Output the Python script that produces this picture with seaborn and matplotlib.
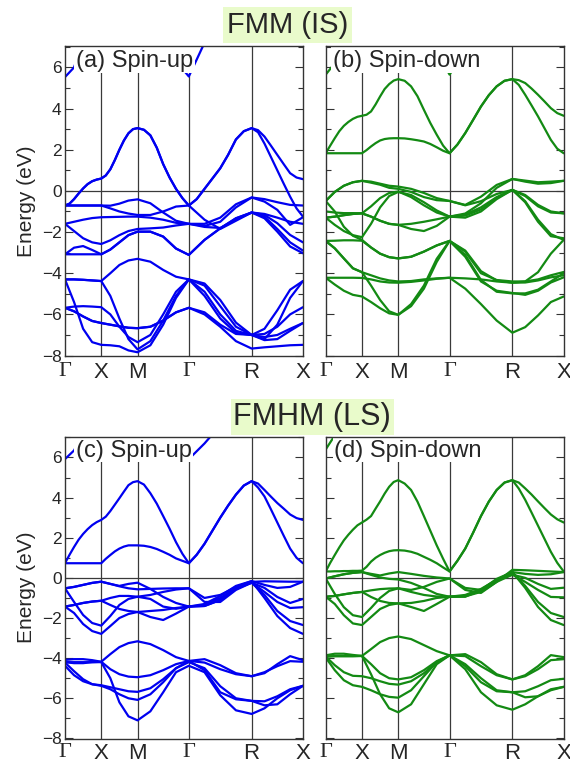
import numpy as np
import pandas as pd
import matplotlib
matplotlib.use('Agg')
import matplotlib.pyplot as plt
from matplotlib.patches import Rectangle
from matplotlib.ticker import MultipleLocator
import seaborn as sns

# k-path Γ-X-M-Γ-R-X of the simple cubic zone, segment lengths in 2π/a
k_labels = ['Γ', 'X', 'M', 'Γ', 'R', 'X']
seg_len = [0.5, 0.5, np.sqrt(2) / 2, np.sqrt(3) / 2, np.sqrt(2) / 2]
# valence bands read at 0, 1/4, 1/2, 3/4 of every segment (21 values),
# the wide conduction bands at every 1/8 (41 values)

# ---- (a) FMM (IS) spin-up, eV ----
cond_a = [
    [-0.71, -0.62, -0.40, -0.13, 0.12, 0.33, 0.47, 0.55,
     0.60, 0.75, 1.05, 1.50, 2.00, 2.45, 2.80, 3.00,
     3.05, 2.97, 2.70, 2.10, 1.30, 0.65, 0.10, -0.35,
     -0.71, -0.40, 0.10, 0.60, 1.10, 1.75, 2.50, 2.90,
     3.05, 2.95, 2.64, 2.20, 1.75, 1.30, 0.86, 0.65, 0.57],
    [-0.71, -0.62, -0.40, -0.13, 0.12, 0.33, 0.47, 0.55,
     0.60, 0.75, 1.05, 1.50, 2.00, 2.45, 2.80, 3.00,
     3.05, 2.97, 2.70, 2.10, 1.30, 0.65, 0.10, -0.35,
     -0.71, -0.40, 0.10, 0.60, 1.10, 1.75, 2.50, 2.90,
     3.05, 2.85, 2.30, 1.65, 1.00, 0.35, -0.28, -0.85, -1.25],
]
bands_a = [
    [5.53, 6.0, 7.3, 8.0, 8.3, 8.3, 8.3, 8.3, 8.3, 8.2, 7.6, 6.3, 5.56, 7.2, 8.2, 8.8, 9.0, 9.0, 9.0, 9.0, 9.0],
    [-0.71, -0.71, -0.71, -0.71, -0.71, -0.72, -0.62, -0.47, -0.41, -0.60, -1.05, -1.45, -1.60, -1.60, -1.30, -0.65, -0.32, -0.40, -0.55, -0.68, -0.71],
    [-0.71, -0.71, -0.71, -0.71, -0.71, -0.85, -1.00, -1.10, -1.17, -1.17, -1.00, -0.76, -0.71, -1.40, -1.85, -1.45, -1.05, -1.17, -1.57, -2.14, -2.50],
    [-1.60, -1.50, -1.40, -1.32, -1.28, -1.27, -1.26, -1.25, -1.25, -1.30, -1.40, -1.55, -1.60, -1.70, -1.50, -0.80, -0.32, -0.52, -0.92, -1.65, -1.28],
    [-1.60, -1.95, -2.30, -2.50, -2.58, -2.40, -2.15, -1.95, -1.85, -1.82, -1.78, -1.68, -1.60, -1.75, -1.80, -1.40, -1.05, -1.12, -1.30, -1.50, -1.60],
    [-3.08, -2.76, -2.68, -2.87, -3.08, -2.85, -2.50, -2.15, -1.98, -1.98, -2.22, -2.80, -3.11, -2.38, -1.82, -1.33, -1.05, -1.33, -1.98, -2.70, -3.03],
    [-3.08, -3.08, -3.08, -3.08, -3.08, -2.85, -2.50, -2.15, -1.98, -1.98, -2.22, -2.80, -3.11, -2.38, -1.82, -1.33, -1.05, -1.25, -1.85, -2.50, -2.90],
    [-4.30, -4.30, -4.32, -4.35, -4.38, -4.00, -3.60, -3.38, -3.30, -3.44, -3.84, -4.17, -4.30, -4.60, -5.60, -6.60, -7.00, -6.70, -5.80, -4.80, -4.38],
    [-4.30, -4.30, -4.32, -4.35, -4.38, -5.10, -6.20, -7.20, -7.70, -7.30, -6.30, -5.10, -4.30, -5.10, -6.20, -6.90, -7.00, -7.20, -6.50, -5.20, -4.38],
    [-4.30, -5.40, -6.70, -7.35, -7.48, -7.50, -7.55, -7.75, -7.84, -7.50, -6.50, -5.20, -4.30, -4.90, -6.00, -6.80, -7.00, -7.10, -7.00, -6.70, -6.42],
    [-5.68, -5.62, -5.60, -5.62, -5.65, -6.00, -6.60, -7.10, -7.35, -7.00, -6.00, -4.90, -4.30, -4.50, -5.30, -6.40, -7.00, -6.95, -6.60, -6.00, -5.65],
    [-5.68, -5.85, -6.10, -6.32, -6.42, -6.50, -6.58, -6.65, -6.67, -6.60, -6.30, -5.90, -5.68, -6.00, -6.60, -7.30, -7.66, -7.60, -7.55, -7.50, -7.48],
    [-5.68, -5.85, -6.10, -6.32, -6.42, -6.50, -6.58, -6.65, -6.67, -6.60, -6.30, -5.90, -5.68, -5.90, -6.50, -6.95, -7.00, -7.25, -7.20, -6.80, -6.42],
]

# ---- (b) FMM (IS) spin-down ----
cond_b = [
    [1.83, 2.20, 2.56, 2.90, 3.16, 3.35, 3.50, 3.60,
     3.65, 3.70, 3.86, 4.20, 4.59, 4.95, 5.19, 5.36,
     5.43, 5.35, 5.08, 4.60, 3.94, 3.30, 2.73, 2.20,
     1.83, 2.25, 2.81, 3.45, 4.10, 4.65, 5.08, 5.35,
     5.43, 5.38, 5.24, 4.97, 4.67, 4.35, 4.02, 3.78, 3.65],
    [1.83, 1.83, 1.83, 1.83, 1.83, 1.83, 1.83, 1.83,
     1.83, 1.98, 2.16, 2.32, 2.45, 2.52, 2.55, 2.56,
     2.56, 2.55, 2.51, 2.46, 2.40, 2.28, 2.12, 1.95,
     1.83, 2.25, 2.81, 3.45, 4.10, 4.65, 5.08, 5.35,
     5.43, 5.15, 4.67, 4.15, 3.62, 3.05, 2.48, 2.05, 1.83],
]
bands_b = [
    [5.65, 6.2, 7.3, 8.0, 8.5, 8.5, 8.5, 8.5, 8.5, 8.5, 8.0, 6.8, 5.65, 6.8, 7.8, 8.5, 9.0, 9.0, 9.0, 9.0, 9.0],
    [-0.49, -0.05, 0.25, 0.42, 0.49, 0.45, 0.35, 0.25, 0.21, 0.10, -0.10, -0.35, -0.49, -0.68, -0.28, 0.29, 0.58, 0.50, 0.42, 0.45, 0.49],
    [-0.49, -0.05, 0.25, 0.42, 0.49, 0.40, 0.30, 0.15, 0.10, -0.05, -0.30, -0.45, -0.49, -0.70, -0.50, -0.15, 0.05, -0.20, -0.68, -1.00, -1.09],
    [-1.00, -1.05, -1.08, -1.08, -1.09, -0.75, -0.35, -0.10, -0.03, -0.30, -0.70, -1.05, -1.25, -1.10, -0.60, 0.15, 0.58, 0.45, 0.35, 0.38, 0.49],
    [-1.30, -1.25, -1.18, -1.12, -1.09, -1.25, -1.45, -1.60, -1.65, -1.60, -1.50, -1.38, -1.25, -1.15, -0.80, -0.30, 0.05, -0.50, -1.40, -2.10, -2.38],
    [-1.30, -1.25, -1.18, -1.12, -1.09, -1.25, -1.45, -1.60, -1.65, -1.85, -1.95, -1.70, -1.25, -1.20, -0.90, -0.35, 0.05, -0.25, -0.75, -1.05, -1.09],
    [-1.30, -1.65, -1.95, -2.15, -2.25, -1.60, -0.80, -0.25, -0.05, -0.20, -0.55, -0.95, -1.25, -1.30, -1.00, -0.40, 0.05, -0.55, -1.50, -2.20, -2.30],
    [-0.49, -1.00, -1.74, -2.18, -2.38, -2.75, -3.05, -3.22, -3.28, -3.20, -2.95, -2.65, -2.43, -2.95, -4.00, -4.33, -4.40, -4.40, -3.95, -3.05, -2.38],
    [-2.43, -2.42, -2.40, -2.40, -2.42, -2.75, -3.05, -3.22, -3.28, -3.20, -2.95, -2.65, -2.43, -3.11, -4.33, -4.90, -4.98, -4.98, -4.80, -4.40, -4.00],
    [-2.43, -2.79, -3.28, -3.76, -3.95, -4.10, -4.25, -4.35, -4.40, -4.38, -4.30, -4.25, -4.22, -4.25, -4.30, -4.40, -4.46, -4.40, -4.30, -4.10, -3.94],
    [-4.22, -4.22, -4.22, -4.22, -4.23, -4.30, -4.40, -4.45, -4.46, -4.42, -4.35, -4.27, -4.22, -4.75, -5.50, -6.30, -6.89, -6.62, -6.05, -5.40, -5.13],
    [-4.22, -4.55, -4.85, -5.05, -5.13, -5.40, -5.70, -5.95, -6.02, -5.50, -4.60, -3.30, -2.43, -2.90, -3.90, -4.35, -4.46, -4.45, -4.35, -4.20, -4.10],
    [-2.43, -2.79, -3.28, -3.76, -3.95, -4.60, -5.30, -5.85, -6.02, -5.60, -4.75, -3.45, -2.43, -3.20, -4.40, -4.85, -4.96, -5.05, -4.85, -4.45, -4.20],
]

# ---- (c) FMHM (LS) spin-up ----
cond_c = [
    [0.73, 1.15, 1.54, 1.90, 2.19, 2.43, 2.63, 2.78,
     2.89, 3.05, 3.33, 3.65, 3.97, 4.30, 4.62, 4.77,
     4.82, 4.65, 4.22, 3.70, 3.08, 2.45, 1.78, 1.20,
     0.73, 1.15, 1.70, 2.35, 3.00, 3.60, 4.15, 4.60,
     4.82, 4.70, 4.38, 4.05, 3.73, 3.45, 3.16, 2.98, 2.89],
    [0.73, 0.73, 0.73, 0.73, 0.73, 0.73, 0.73, 0.73,
     0.73, 0.95, 1.14, 1.32, 1.46, 1.56, 1.62, 1.62,
     1.62, 1.60, 1.54, 1.44, 1.30, 1.15, 0.97, 0.85,
     0.73, 1.15, 1.70, 2.35, 3.00, 3.60, 4.15, 4.60,
     4.82, 4.50, 4.06, 3.42, 2.76, 2.10, 1.46, 1.00, 0.73],
]
bands_c = [
    [5.92, 6.35, 7.2, 8.0, 8.5, 8.5, 8.5, 8.5, 8.5, 8.3, 7.5, 6.7, 5.92, 6.7, 7.6, 8.5, 9.0, 9.0, 9.0, 9.0, 9.0],
    [-0.52, -0.45, -0.35, -0.25, -0.19, -0.30, -0.40, -0.30, -0.24, -0.55, -0.95, -1.25, -1.43, -1.35, -1.00, -0.50, -0.20, -0.17, -0.18, -0.19, -0.19],
    [-0.52, -0.45, -0.35, -0.25, -0.19, -0.30, -0.42, -0.52, -0.57, -0.55, -0.53, -0.52, -0.52, -1.00, -0.85, -0.45, -0.16, -0.35, -0.50, -0.45, -0.19],
    [-1.43, -1.35, -1.25, -1.18, -1.14, -1.00, -0.90, -0.90, -0.94, -1.05, -1.43, -1.54, -1.43, -1.40, -1.10, -0.55, -0.24, -0.50, -0.95, -1.25, -1.05],
    [-0.52, -1.20, -1.85, -2.25, -2.38, -1.90, -1.35, -1.05, -0.94, -0.85, -0.70, -0.58, -0.52, -1.20, -1.20, -0.60, -0.24, -0.85, -1.65, -2.15, -2.35],
    [-1.43, -1.75, -2.30, -2.65, -2.79, -2.40, -2.00, -1.80, -1.70, -1.95, -2.10, -1.78, -1.43, -1.30, -0.90, -0.40, -0.16, -1.00, -1.90, -2.50, -2.79],
    [-1.43, -1.35, -1.25, -1.18, -1.14, -1.35, -1.55, -1.65, -1.70, -1.65, -1.60, -1.50, -1.43, -1.40, -1.10, -0.50, -0.24, -0.70, -1.20, -1.50, -1.46],
    [-4.09, -4.05, -4.05, -4.10, -4.18, -3.80, -3.45, -3.25, -3.16, -3.30, -3.60, -3.95, -4.14, -4.22, -4.55, -4.80, -4.90, -4.75, -4.30, -3.90, -4.10],
    [-4.20, -4.25, -4.25, -4.20, -4.18, -4.55, -4.80, -4.92, -4.95, -4.85, -4.60, -4.30, -4.14, -4.05, -4.35, -4.75, -4.90, -4.70, -4.40, -4.15, -4.18],
    [-4.22, -4.65, -5.05, -5.30, -5.35, -5.45, -5.55, -5.65, -5.68, -5.50, -5.05, -4.50, -4.14, -4.60, -5.70, -6.05, -6.13, -6.15, -5.90, -5.55, -5.38],
    [-4.38, -4.85, -5.15, -5.30, -5.38, -5.55, -5.80, -6.00, -6.08, -5.80, -5.20, -4.50, -4.20, -4.50, -5.40, -6.00, -6.13, -6.35, -6.30, -5.80, -5.38],
    [-4.20, -4.20, -4.20, -4.20, -4.20, -5.00, -6.20, -6.90, -7.10, -6.65, -5.70, -4.70, -4.38, -4.70, -5.85, -6.60, -6.78, -6.50, -6.00, -5.60, -5.38],
]

# ---- (d) FMHM (LS) spin-down ----
cond_d = [
    [0.32, 0.75, 1.14, 1.52, 1.87, 2.15, 2.40, 2.62,
     2.76, 2.90, 3.08, 3.45, 3.81, 4.20, 4.54, 4.78,
     4.87, 4.70, 4.38, 3.80, 3.08, 2.35, 1.62, 0.95,
     0.32, 0.85, 1.46, 2.25, 3.08, 3.80, 4.38, 4.75,
     4.87, 4.75, 4.46, 4.15, 3.81, 3.48, 3.16, 2.92, 2.76],
    [0.32, 0.32, 0.33, 0.33, 0.34, 0.34, 0.35, 0.35,
     0.36, 0.55, 0.81, 1.00, 1.14, 1.25, 1.33, 1.37,
     1.38, 1.36, 1.30, 1.20, 1.05, 0.90, 0.73, 0.52,
     0.32, 0.85, 1.46, 2.25, 3.08, 3.80, 4.38, 4.75,
     4.87, 4.45, 3.89, 3.25, 2.60, 1.95, 1.30, 0.75, 0.32],
]
bands_d = [
    [6.4, 7.1, 8.0, 8.5, 8.5, 8.5, 8.5, 8.5, 8.5, 8.3, 7.6, 6.95, 6.4, 7.3, 8.0, 8.5, 9.0, 9.0, 9.0, 9.0, 9.0],
    [-0.03, 0.08, 0.18, 0.25, 0.29, 0.20, 0.12, 0.22, 0.29, 0.20, 0.10, 0.02, -0.03, -0.60, -0.75, -0.20, 0.40, 0.38, 0.35, 0.32, 0.29],
    [-0.03, 0.08, 0.18, 0.25, 0.29, 0.15, 0.02, -0.05, -0.08, -0.25, -0.50, -0.80, -0.94, -0.94, -0.60, -0.05, 0.29, 0.20, 0.15, 0.18, 0.29],
    [-0.03, -0.80, -1.46, -1.86, -1.95, -1.50, -1.00, -0.65, -0.52, -0.60, -0.45, -0.20, -0.03, -0.50, -0.60, -0.10, 0.29, -0.40, -1.20, -1.75, -1.95],
    [-0.94, -0.90, -0.82, -0.75, -0.70, -0.62, -0.56, -0.53, -0.52, -0.70, -0.85, -0.93, -0.94, -0.92, -0.70, -0.20, 0.16, 0.00, -0.30, -0.55, -0.49],
    [-0.94, -1.30, -1.86, -2.27, -2.35, -1.95, -1.55, -1.35, -1.27, -1.45, -1.65, -1.30, -0.94, -0.85, -0.55, -0.10, 0.16, -0.20, -0.60, -0.95, -0.97],
    [-0.94, -0.90, -0.82, -0.75, -0.70, -0.95, -1.15, -1.25, -1.27, -1.25, -1.15, -1.00, -0.94, -0.90, -0.65, -0.15, 0.29, -0.50, -1.45, -2.10, -2.35],
    [-3.86, -3.78, -3.78, -3.84, -3.89, -3.55, -3.20, -3.00, -2.92, -3.05, -3.35, -3.65, -3.86, -3.90, -4.40, -4.85, -5.06, -4.85, -4.40, -3.85, -3.95],
    [-3.92, -3.90, -3.90, -3.90, -3.89, -4.30, -4.75, -5.00, -5.06, -4.95, -4.60, -4.15, -3.86, -3.80, -4.20, -4.80, -5.06, -4.90, -4.55, -4.10, -4.05],
    [-3.92, -4.35, -4.70, -4.88, -4.90, -5.00, -5.15, -5.28, -5.32, -5.15, -4.75, -4.20, -3.86, -4.40, -5.20, -5.65, -5.70, -5.65, -5.40, -5.10, -5.03],
    [-3.97, -4.60, -5.10, -5.35, -5.43, -5.60, -5.80, -5.93, -5.97, -5.60, -4.90, -4.20, -3.86, -4.30, -5.00, -5.60, -5.70, -5.95, -5.90, -5.60, -5.43],
    [-3.92, -3.90, -3.90, -3.90, -3.89, -4.80, -5.80, -6.50, -6.70, -6.30, -5.30, -4.30, -3.86, -4.55, -5.70, -6.35, -6.57, -6.30, -5.90, -5.55, -5.43],
]

panel_labels = ['(a) Spin-up', '(b) Spin-down', '(c) Spin-up', '(d) Spin-down']
titles = ['FMM (IS)', 'FMHM (LS)']

k_nodes = np.concatenate([[0.0], np.cumsum(seg_len)])


def k_grid(n_sub):
    pieces = [np.linspace(k_nodes[i], k_nodes[i + 1], n_sub + 1)[:-1] for i in range(len(seg_len))]
    return np.concatenate(pieces + [[k_nodes[-1]]])


k_coarse = k_grid(4)
k_fine = k_grid(8)


def to_frame(bands):
    parts = []
    for i, e in enumerate(bands):
        kk = k_fine if len(e) == len(k_fine) else k_coarse
        parts.append(pd.DataFrame({'k': kk, 'E': e, 'band': i}))
    return pd.concat(parts, ignore_index=True)


sns.set_style('ticks')
plt.rcParams['font.family'] = ['Liberation Sans', 'DejaVu Sans']

fig = plt.figure(figsize=(5.7, 7.68), dpi=100)
w = 0.4175
# top row as in the reference, bottom row lifted a few pixels so the
# k-point labels stay inside the canvas
rects = [(0.114, 0.5365, 0.4036), (0.5714, 0.5365, 0.4036),
         (0.114, 0.038, 0.3935), (0.5714, 0.038, 0.3935)]
colors = ['#0000f0', '#138a13', '#0000f0', '#138a13']
all_bands = [cond_a + bands_a, cond_b + bands_b, cond_c + bands_c, cond_d + bands_d]
label_x = [0.045, 0.03, 0.045, 0.036]
ylo, yhi = -8.02, 7.04
box_bottom = 5.75  # white patch behind the panel label reaches down to here

axes = []
texts = []
for i, (x0, y0, h) in enumerate(rects):
    ax = fig.add_axes([x0, y0, w, h])
    for xv in k_nodes[1:-1]:
        ax.axvline(xv, color='#3a3a3a', lw=0.9, zorder=1)
    ax.axhline(0, color='#3a3a3a', lw=0.9, zorder=1)
    sns.lineplot(data=to_frame(all_bands[i]), x='k', y='E', units='band',
                 estimator=None, sort=False, color=colors[i], lw=1.6,
                 legend=False, ax=ax, zorder=2)
    ax.set_xlim(k_nodes[0], k_nodes[-1])
    ax.set_ylim(ylo, yhi)
    ax.set_xticks(k_nodes)
    ax.set_xticklabels(k_labels, fontsize=16)
    for t in ax.get_xticklabels():
        if t.get_text() == 'Γ':
            t.set_fontfamily('Liberation Serif')
    ax.tick_params(axis='x', length=0, pad=4 if i < 2 else 3)
    ax.set_yticks(range(-8, 7, 2))
    ax.yaxis.set_minor_locator(MultipleLocator(1))
    ax.tick_params(axis='y', which='both', direction='in', left=True, right=True,
                   width=0.8, labelsize=12.5, pad=2.5, color='#333333')
    ax.tick_params(axis='y', which='major', length=6)
    ax.tick_params(axis='y', which='minor', length=3.5)
    ax.set_xlabel('')
    if i % 2 == 0:
        ax.set_ylabel('Energy (eV)', fontsize=15, labelpad=4)
    else:
        ax.set_ylabel('')
        ax.tick_params(axis='y', labelleft=False)
    for s in ax.spines.values():
        s.set_linewidth(1.0)
        s.set_color('#333333')
        s.set_zorder(10)
    t = ax.text(label_x[i], 0.951, panel_labels[i], transform=ax.transAxes,
                fontsize=17, ha='left', va='center', zorder=6)
    axes.append(ax)
    texts.append(t)

# white patch under each panel label, from the top frame down to box_bottom
fig.canvas.draw()
renderer = fig.canvas.get_renderer()
for ax, t in zip(axes, texts):
    bb = t.get_window_extent(renderer).transformed(ax.transAxes.inverted())
    yb = (box_bottom - ylo) / (yhi - ylo)
    ax.add_patch(Rectangle((bb.x0 - 0.006, yb), bb.width + 0.014, 1 - yb,
                           transform=ax.transAxes, facecolor='white',
                           edgecolor='none', zorder=5))

fig.text(0.504, 0.967, titles[0], fontsize=21, ha='center', va='center',
         bbox=dict(facecolor='#e9fbcb', edgecolor='none', pad=3))
fig.text(0.548, 0.457, titles[1], fontsize=22, ha='center', va='center',
         bbox=dict(facecolor='#e9fbcb', edgecolor='none', pad=2))

fig.savefig('out.png', dpi=100)
